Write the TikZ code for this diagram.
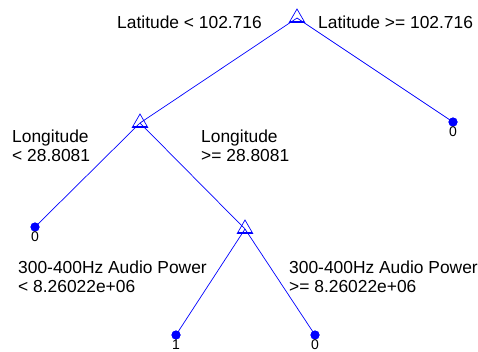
\documentclass[tikz,border=0pt]{standalone}
\usepackage{fontspec}
\setmainfont{Liberation Sans}
\usetikzlibrary{shapes.geometric}
\begin{document}
\begin{tikzpicture}[x=1pt,y=-1pt,
  edge/.style={draw=blue, line width=0.7pt},
  split/.style={regular polygon, regular polygon sides=3, draw=blue, line width=0.7pt,
    minimum size=18pt, inner sep=0pt, outer sep=0pt},
  leaf/.style={circle, fill=blue, minimum size=9pt, inner sep=0pt},
  cond/.style={anchor=base west, inner sep=0pt, font=\fontsize{17.4}{19}\selectfont},
  cls/.style={anchor=north, inner sep=0pt, yshift=-4.5pt, font=\fontsize{14}{14}\selectfont}]
\useasboundingbox (0,0) rectangle (478,351);

% decision nodes
\node[split] (root) at (297,18) {};
\node[split] (lon) at (140,123) {};
\node[split] (aud) at (245,229) {};
% leaves
\node[leaf] (leafR) at (453,122) {};
\node[leaf] (leafL) at (35,227) {};
\node[leaf] (leafA) at (176,335) {};
\node[leaf] (leafB) at (315,335) {};

% branches
\draw[edge] (root.center) -- (lon.center);
\draw[edge] (root.center) -- (leafR.center);
\draw[edge] (lon.center) -- (leafL.center);
\draw[edge] (lon.center) -- (aud.center);
\draw[edge] (aud.center) -- (leafA.center);
\draw[edge] (aud.center) -- (leafB.center);

% inner base line of each split marker
\foreach \n in {root,lon,aud}
  \draw[edge] ([shift={(1.2,-1.6)}]\n.corner 2) -- ([shift={(-1.2,-1.6)}]\n.corner 3);

% leaves drawn on top of the branches
\foreach \n in {leafR,leafL,leafA,leafB}
  \fill[blue] (\n.center) circle (4.5pt);

% class labels
\node[cls] (cR) at (leafR.center) {0};
\node[cls] (cL) at (leafL.center) {0};
\node[cls] (cA) at (leafA.center) {1};
\node[cls] (cB) at (leafB.center) {0};

% split conditions
\node[cond] (t1) at (117,28) {Latitude < 102.716};
\node[cond] (t2) at (318,28) {Latitude >= 102.716};
\node[cond] (t3) at (12,142) {Longitude};
\node[cond] (t4) at (12,161) {< 28.8081};
\node[cond] (t5) at (201,142) {Longitude};
\node[cond] (t6) at (201,161) {>= 28.8081};
\node[cond] (t7) at (18,273) {300-400Hz Audio Power};
\node[cond] (t8) at (18,292) {< 8.26022e+06};
\node[cond] (t9) at (289,273) {300-400Hz Audio Power};
\node[cond] (t10) at (289,292) {>= 8.26022e+06};
\end{tikzpicture}
\end{document}
